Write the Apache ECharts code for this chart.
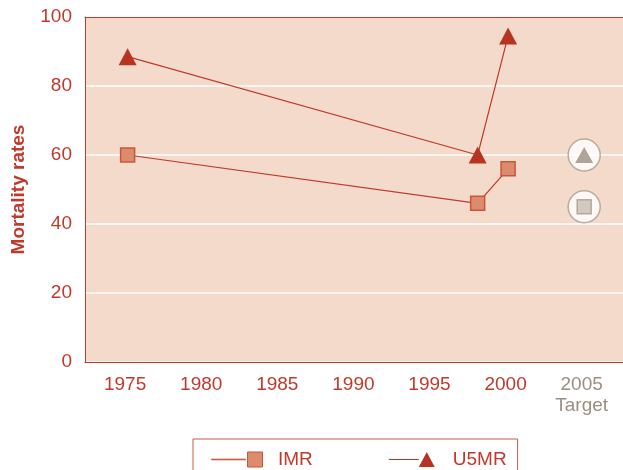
<!DOCTYPE html>
<html><head><meta charset="utf-8">
<script src="https://cdn.jsdelivr.net/npm/echarts@6/dist/echarts.min.js"></script>
<style>html,body{margin:0;padding:0;background:#fff}#c{width:623px;height:470px}</style>
</head><body><div id="c"></div>
<script>
const imrYears = [1975, 1998, 2000];
const imrValues = [60, 46, 56];
const u5mrYears = [1975, 1998, 2000];
const u5mrValues = [88.5, 60, 94.5];
const targetYears = [2005];
const targetIMR = [45];
const targetU5MR = [60];
const xTickLabels = [1975, 1980, 1985, 1990, 1995, 2000, 2005];

const RED = '#c0392b';
const GRAY = '#9b8f80';
const FONT = 'Liberation Sans, Arial, sans-serif';

const zip = (xs, ys) => xs.map((x, i) => [x, ys[i]]);

const chart = echarts.init(document.getElementById('c'));
chart.setOption({
  animation: false,
  textStyle: { fontFamily: FONT },
  grid: {
    left: 85, right: 0, top: 17, bottom: 108,
    show: true, backgroundColor: '#f3dacb', borderWidth: 0
  },
  xAxis: [{
    type: 'value', min: 1972.2, max: 2007.55,
    axisLine: { show: true, lineStyle: { color: RED, width: 1 } },
    axisTick: { show: false },
    splitLine: { show: false },
    axisLabel: {
      customValues: xTickLabels,
      margin: 12,
      padding: [0, 5, 0, 0],
      fontSize: 19, color: RED, fontFamily: FONT, lineHeight: 21,
      formatter: v => v === 2005 ? '{t|2005}\n{t|Target}' : String(v),
      rich: { t: { color: GRAY, fontSize: 19, fontFamily: FONT, lineHeight: 21 } }
    }
  }, {
    type: 'value', position: 'top', min: 1972.2, max: 2007.55,
    axisLine: { show: true, lineStyle: { color: RED, width: 1 } },
    axisTick: { show: false }, axisLabel: { show: false }, splitLine: { show: false }
  }],
  yAxis: {
    type: 'value', min: 0, max: 100, interval: 20,
    name: 'Mortality rates', nameLocation: 'middle', nameGap: 57,
    nameTextStyle: { color: RED, fontSize: 19, fontWeight: 'bold', fontFamily: FONT },
    axisLine: { show: true, lineStyle: { color: RED, width: 1 } },
    axisTick: { show: false },
    splitLine: { show: true, lineStyle: { color: '#ffffff', width: 1.5 } },
    axisLabel: { margin: 13, fontSize: 19, color: RED, fontFamily: FONT }
  },
  legend: {
    left: 193, top: 439,
    padding: [11, 11, 11, 18],
    itemGap: 76, itemWidth: 52, itemHeight: 15,
    borderColor: '#c85a4a', borderWidth: 1, backgroundColor: '#fff',
    textStyle: { color: RED, fontSize: 19, fontFamily: FONT, padding: [0, 0, 0, 10] },
    data: [
      { name: 'IMR', icon: 'path://M0,7.2L34,7.2L34,7.8L0,7.8Z M36,0L51,0L51,15L36,15Z',
        itemStyle: { color: '#dc8c6c', borderColor: '#c9553f', borderWidth: 1 } },
      { name: 'U5MR', icon: 'path://M0,6.8L34,6.8L34,8.2L0,8.2Z M43,-1L52,16L34,16Z',
        itemStyle: { color: '#b83422', borderWidth: 0 } }
    ]
  },
  series: [
    {
      name: 'IMR', type: 'line', data: zip(imrYears, imrValues),
      symbol: 'rect', symbolSize: 14,
      itemStyle: { color: '#dc8c6c', borderColor: '#c9553f', borderWidth: 1.5 },
      lineStyle: { color: RED, width: 1.2 }, z: 3
    },
    {
      name: 'U5MR', type: 'line', data: zip(u5mrYears, u5mrValues),
      symbol: 'triangle', symbolSize: [18, 17],
      itemStyle: { color: '#b83422', borderWidth: 0 },
      lineStyle: { color: RED, width: 1.2 }, z: 3
    },
    {
      name: 'targetCircle', type: 'scatter',
      data: zip(targetYears, targetU5MR).concat(zip(targetYears, targetIMR)),
      symbol: 'circle', symbolSize: 32,
      itemStyle: { color: '#ffffff', borderColor: '#a89c8c', borderWidth: 1.5 }, z: 2
    },
    {
      name: 'targetU5MR', type: 'scatter', data: zip(targetYears, targetU5MR),
      symbol: 'triangle', symbolSize: [18, 16],
      itemStyle: { color: GRAY }, z: 4
    },
    {
      name: 'targetIMR', type: 'scatter', data: zip(targetYears, targetIMR),
      symbol: 'rect', symbolSize: 14,
      itemStyle: { color: '#c8beb2', borderColor: '#a89c8c', borderWidth: 1.5 }, z: 4
    }
  ]
});
</script>
</body></html>
